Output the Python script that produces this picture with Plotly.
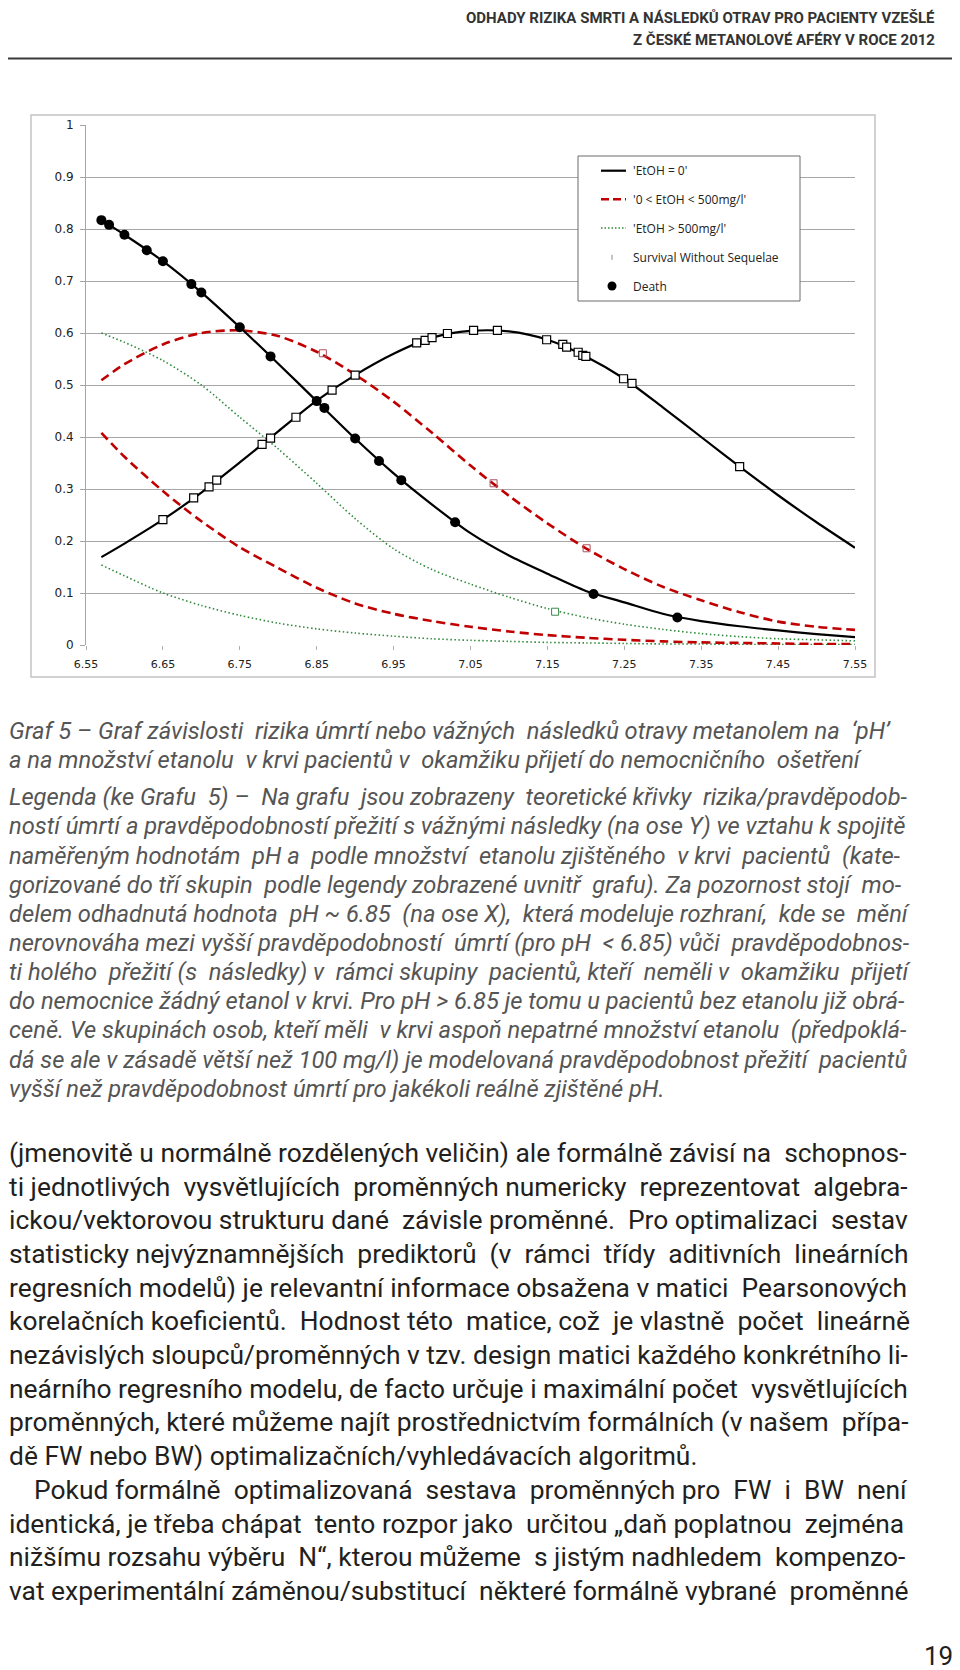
import plotly.graph_objects as go

# ---------------- DATA ----------------
ph_grid = [6.57, 6.60, 6.65, 6.70, 6.75, 6.80, 6.85, 6.90, 6.95, 7.00, 7.05,
           7.10, 7.15, 7.20, 7.25, 7.30, 7.35, 7.40, 7.45, 7.50, 7.55]

# EtOH = 0 (black solid)
etoh0_death = [0.817, 0.789, 0.738, 0.678, 0.611, 0.541, 0.469, 0.397, 0.330, 0.270, 0.215,
               0.172, 0.137, 0.104, 0.082, 0.060, 0.046, 0.036, 0.028, 0.021, 0.015]
etoh0_surv = [0.169, 0.195, 0.241, 0.293, 0.351, 0.411, 0.470, 0.519, 0.560, 0.591, 0.604,
              0.603, 0.587, 0.555, 0.512, 0.457, 0.400, 0.343, 0.288, 0.236, 0.187]
# 0 < EtOH < 500 mg/l (red dashed)
etoh_mid_surv = [0.509, 0.540, 0.578, 0.600, 0.605, 0.594, 0.564, 0.520, 0.468, 0.408, 0.345,
                 0.287, 0.234, 0.186, 0.146, 0.112, 0.086, 0.063, 0.045, 0.035, 0.029]
etoh_mid_death = [0.408, 0.362, 0.296, 0.238, 0.188, 0.148, 0.110, 0.080, 0.060, 0.046, 0.035,
                  0.026, 0.019, 0.014, 0.010, 0.007, 0.005, 0.004, 0.003, 0.002, 0.002]
# EtOH > 500 mg/l (green dotted)
etoh_high_surv = [0.600, 0.582, 0.547, 0.500, 0.438, 0.377, 0.311, 0.243, 0.185, 0.145, 0.117,
                  0.092, 0.070, 0.053, 0.040, 0.030, 0.022, 0.016, 0.012, 0.010, 0.008]
etoh_high_death = [0.154, 0.133, 0.100, 0.076, 0.057, 0.042, 0.031, 0.023, 0.017, 0.012, 0.009,
                   0.007, 0.005, 0.004, 0.003, 0.002, 0.002, 0.001, 0.001, 0.001, 0.001]

# observed patients (EtOH = 0)
death_ph = [6.570, 6.580, 6.600, 6.629, 6.650, 6.687, 6.700, 6.750, 6.790, 6.850, 6.860,
            6.900, 6.931, 6.960, 7.030, 7.210, 7.319]
death_p = [0.817, 0.808, 0.789, 0.759, 0.738, 0.694, 0.678, 0.611, 0.555, 0.469, 0.456,
           0.397, 0.354, 0.317, 0.236, 0.098, 0.053]
surv_ph = [6.650, 6.690, 6.710, 6.720, 6.779, 6.790, 6.823, 6.870, 6.900, 6.980, 6.991,
           7.000, 7.020, 7.054, 7.085, 7.149, 7.170, 7.175, 7.190, 7.196, 7.200, 7.249,
           7.260, 7.400]
surv_p = [0.241, 0.283, 0.304, 0.317, 0.386, 0.398, 0.438, 0.490, 0.519, 0.581, 0.586,
          0.591, 0.599, 0.605, 0.605, 0.587, 0.578, 0.573, 0.563, 0.557, 0.555, 0.512,
          0.503, 0.343]
# observed patients in the other EtOH groups
mid_surv_ph = [6.858, 7.080, 7.201]
mid_surv_p = [0.561, 0.311, 0.186]
high_surv_ph = [7.160]
high_surv_p = [0.064]

x_ticks = [6.55, 6.65, 6.75, 6.85, 6.95, 7.05, 7.15, 7.25, 7.35, 7.45, 7.55]
y_ticks = [0, 0.1, 0.2, 0.3, 0.4, 0.5, 0.6, 0.7, 0.8, 0.9, 1]
y_tick_labels = ["0", "0.1", "0.2", "0.3", "0.4", "0.5", "0.6", "0.7", "0.8", "0.9", "1"]

legend_labels = ["'EtOH = 0'", "'0 < EtOH < 500mg/l'", "'EtOH > 500mg/l'",
                 "Survival Without Sequelae", "Death"]

header_lines = ["ODHADY RIZIKA SMRTI A NÁSLEDKŮ OTRAV PRO PACIENTY VZEŠLÉ",
                "Z ČESKÉ METANOLOVÉ AFÉRY V ROCE 2012"]

caption_lines = [
    "Graf 5 – Graf závislosti rizika úmrtí nebo vážných následků otravy metanolem na ‘pH’",
    "a na množství etanolu v krvi pacientů v okamžiku přijetí do nemocničního ošetření",
    "Legenda (ke Grafu 5) – Na grafu jsou zobrazeny teoretické křivky rizika/pravděpodob-",
    "ností úmrtí a pravděpodobností přežití s vážnými následky (na ose Y) ve vztahu k spojitě",
    "naměřeným hodnotám pH a podle množství etanolu zjištěného v krvi pacientů (kate-",
    "gorizované do tří skupin podle legendy zobrazené uvnitř grafu). Za pozornost stojí mo-",
    "delem odhadnutá hodnota pH ~ 6.85 (na ose X), která modeluje rozhraní, kde se mění",
    "nerovnováha mezi vyšší pravděpodobností úmrtí (pro pH < 6.85) vůči pravděpodobnos-",
    "ti holého přežití (s následky) v rámci skupiny pacientů, kteří neměli v okamžiku přijetí",
    "do nemocnice žádný etanol v krvi. Pro pH > 6.85 je tomu u pacientů bez etanolu již obrá-",
    "ceně. Ve skupinách osob, kteří měli v krvi aspoň nepatrné množství etanolu (předpoklá-",
    "dá se ale v zásadě větší než 100 mg/l) je modelovaná pravděpodobnost přežití pacientů",
    "vyšší než pravděpodobnost úmrtí pro jakékoli reálně zjištěné pH.",
]

body_lines = [
    "(jmenovitě u normálně rozdělených veličin) ale formálně závisí na schopnos-",
    "ti jednotlivých vysvětlujících proměnných numericky reprezentovat algebra-",
    "ickou/vektorovou strukturu dané závisle proměnné. Pro optimalizaci sestav",
    "statisticky nejvýznamnějších prediktorů (v rámci třídy aditivních lineárních",
    "regresních modelů) je relevantní informace obsažena v matici Pearsonových",
    "korelačních koeficientů. Hodnost této matice, což je vlastně počet lineárně",
    "nezávislých sloupců/proměnných v tzv. design matici každého konkrétního li-",
    "neárního regresního modelu, de facto určuje i maximální počet vysvětlujících",
    "proměnných, které můžeme najít prostřednictvím formálních (v našem přípa-",
    "dě FW nebo BW) optimalizačních/vyhledávacích algoritmů.",
    "Pokud formálně optimalizovaná sestava proměnných pro FW i BW není",
    "identická, je třeba chápat tento rozpor jako určitou „daň poplatnou zejména",
    "nižšímu rozsahu výběru N“, kterou můžeme s jistým nadhledem kompenzo-",
    "vat experimentální záměnou/substitucí některé formálně vybrané proměnné",
]
page_number = "19"

# ---------------- LAYOUT / STYLE ----------------
# extra inter-word spaces per line to imitate justified typesetting
caption_extra_spaces = [3, 3, 5, 0, 6, 3, 5, 3, 7, 0, 2, 1, 0]
body_extra_spaces = [1, 4, 3, 6, 1, 5, 0, 1, 1, 0, 7, 3, 3, 2]

# page coordinates (px); the page body adds an 8px offset around the figure
W, H = 960, 1670
OFF = 8
L, R, T, B = 86, 855, 125, 645


def px(x):
    return (x - L) / (R - L)


def py(y):
    return (B - y) / (B - T)


def justify(line, extra):
    words = line.split(" ")
    gaps = len(words) - 1
    if gaps <= 0 or extra <= 0:
        return line
    out = words[0]
    for i in range(gaps):
        k = (i + 1) * extra // gaps - i * extra // gaps
        out += " " + "\u00a0" * k + words[i + 1]
    return out


RED = "#c00000"
GREEN = "#2f8a3a"
TXT = "Roboto, sans-serif"
CHART_FONT = "DejaVu Sans, Verdana, sans-serif"
LEG_FONT = "Open Sans, Calibri, sans-serif"

fig = go.Figure()

curves = [
    (etoh_high_death, dict(color=GREEN, width=1.6, dash="1.5px,2.5px")),
    (etoh_high_surv, dict(color=GREEN, width=1.6, dash="1.5px,2.5px")),
    (etoh_mid_death, dict(color=RED, width=2.6, dash="9px,5px")),
    (etoh_mid_surv, dict(color=RED, width=2.6, dash="9px,5px")),
    (etoh0_surv, dict(color="black", width=2.2)),
    (etoh0_death, dict(color="black", width=2.2)),
]
for ys, ln in curves:
    fig.add_trace(go.Scatter(x=ph_grid, y=ys, mode="lines", line=dict(shape="spline", smoothing=0.8, **ln),
                             showlegend=False, hoverinfo="skip"))

fig.add_trace(go.Scatter(x=mid_surv_ph, y=mid_surv_p, mode="markers", showlegend=False,
                         marker=dict(symbol="square-open", size=7, color="#b05060", line=dict(width=1))))
fig.add_trace(go.Scatter(x=high_surv_ph, y=high_surv_p, mode="markers", showlegend=False,
                         marker=dict(symbol="square", size=7, color="white", line=dict(width=1, color="#3a8a4a"))))
fig.add_trace(go.Scatter(x=surv_ph, y=surv_p, mode="markers", showlegend=False,
                         marker=dict(symbol="square", size=8, color="white", line=dict(width=1.2, color="black"))))
fig.add_trace(go.Scatter(x=death_ph, y=death_p, mode="markers", showlegend=False,
                         marker=dict(symbol="circle", size=10, color="black", line=dict(width=0))))

fig.update_xaxes(range=[6.55, 7.55], tickvals=x_ticks, ticktext=[f"{v:.2f}" for v in x_ticks],
                 showgrid=False, zeroline=False, showline=False,
                 ticks="outside", ticklen=4, tickcolor="#b0b0b0", tickwidth=1,
                 ticklabelstandoff=5,
                 tickfont=dict(family=CHART_FONT, size=11, color="#222"), fixedrange=True)
fig.update_yaxes(range=[0, 1], tickvals=y_ticks, ticktext=y_tick_labels,
                 showgrid=True, gridcolor="#a6a6a6", gridwidth=1, zeroline=False,
                 showline=True, linecolor="#a6a6a6", linewidth=1,
                 ticks="outside", ticklen=5, tickcolor="#a6a6a6",
                 ticklabelstandoff=4,
                 tickfont=dict(family=CHART_FONT, size=12, color="#222"), fixedrange=True)

shapes = []
# chart frame
shapes.append(dict(type="rect", xref="paper", yref="paper", x0=px(31), x1=px(875), y0=py(677), y1=py(115),
                   line=dict(color="#c4c4c4", width=1.5), layer="below"))
# header rule
shapes.append(dict(type="line", xref="paper", yref="paper", x0=px(0), x1=px(960), y0=py(58.5), y1=py(58.5),
                   line=dict(color="#3a3a3a", width=2)))
# legend box
shapes.append(dict(type="rect", xref="paper", yref="paper", x0=px(578), x1=px(800), y0=py(301), y1=py(156),
                   line=dict(color="#6a6a6a", width=1), fillcolor="white", layer="above"))
leg_y = [170.7, 199.3, 228, 257.3, 286]
shapes.append(dict(type="line", xref="paper", yref="paper", x0=px(601), x1=px(626), y0=py(leg_y[0]), y1=py(leg_y[0]),
                   line=dict(color="black", width=2.2), layer="above"))
shapes.append(dict(type="line", xref="paper", yref="paper", x0=px(601), x1=px(626), y0=py(leg_y[1]), y1=py(leg_y[1]),
                   line=dict(color=RED, width=2.6, dash="8px,4px"), layer="above"))
shapes.append(dict(type="line", xref="paper", yref="paper", x0=px(601), x1=px(626), y0=py(leg_y[2]), y1=py(leg_y[2]),
                   line=dict(color=GREEN, width=1.5, dash="1.5px,2px"), layer="above"))
shapes.append(dict(type="line", xref="paper", yref="paper", x0=px(612), x1=px(612), y0=py(leg_y[3] - 2.5), y1=py(leg_y[3] + 2.5),
                   line=dict(color="#888", width=1), layer="above"))
shapes.append(dict(type="circle", xref="paper", yref="paper", x0=px(607.5), x1=px(616.5), y0=py(leg_y[4] + 4.5), y1=py(leg_y[4] - 4.5),
                   line=dict(color="black", width=0), fillcolor="black", layer="above"))

annotations = []
for lbl, yy in zip(legend_labels, leg_y):
    annotations.append(dict(text=lbl, xref="paper", yref="paper", x=px(631), y=py(yy), xanchor="left", yanchor="middle",
                            showarrow=False, font=dict(family=LEG_FONT, size=12, color="#222")))

# header
header_y = [18, 40]
for t, yy in zip(header_lines, header_y):
    annotations.append(dict(text=f"<b>{t}</b>", xref="paper", yref="paper", x=px(937), y=py(yy),
                            xanchor="right", yanchor="middle", showarrow=False,
                            font=dict(family=TXT, size=15, color="#333")))

# caption (italic)
cap_y = [731, 760, 797, 826, 855.5, 884.5, 914, 943, 972, 1001, 1030, 1059.5, 1089]
for t, yy, ex in zip(caption_lines, cap_y, caption_extra_spaces):
    annotations.append(dict(text=f"<i>{justify(t, ex)}</i>", xref="paper", yref="paper", x=px(7), y=py(yy),
                            xanchor="left", yanchor="middle", showarrow=False,
                            font=dict(family=TXT, size=23.7, color="#555")))

# body text
body_y = [1153, 1186.5, 1220, 1254, 1288, 1321, 1355, 1388.5, 1422, 1456, 1490, 1524, 1557, 1591]
for i, (t, yy, ex) in enumerate(zip(body_lines, body_y, body_extra_spaces)):
    xx = 32 if i == 10 else 7
    annotations.append(dict(text=justify(t, ex), xref="paper", yref="paper", x=px(xx), y=py(yy),
                            xanchor="left", yanchor="middle", showarrow=False,
                            font=dict(family=TXT, size=26.4, color="#231f20")))

annotations.append(dict(text=page_number, xref="paper", yref="paper", x=px(955), y=py(1656),
                        xanchor="right", yanchor="middle", showarrow=False,
                        font=dict(family=TXT, size=26, color="#231f20")))

fig.update_layout(width=W, height=H,
                  margin=dict(l=L - OFF, r=W - (R - OFF), t=T - OFF, b=H - (B - OFF), pad=0),
                  paper_bgcolor="white", plot_bgcolor="white", showlegend=False,
                  shapes=shapes, annotations=annotations)

fig.write_html("out.html")
